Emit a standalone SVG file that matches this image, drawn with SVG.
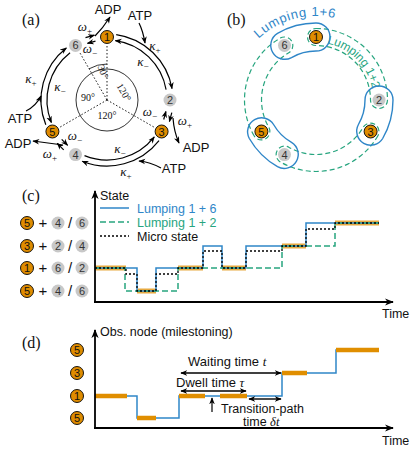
<svg xmlns="http://www.w3.org/2000/svg" width="416" height="449" viewBox="0 0 416 449">
<style>
text{font-family:"Liberation Sans",Arial,sans-serif;fill:#111}
.lab{font-family:"Liberation Serif","Times New Roman",serif;font-size:16px}
.sym{font-family:"Liberation Serif","Times New Roman",serif;font-style:italic;font-size:13px;text-anchor:middle}
.sub{font-style:normal;font-size:9px}
.ang{font-family:"Liberation Serif","Times New Roman",serif;font-size:10px;text-anchor:middle}
.chem{font-size:13px;text-anchor:middle}
.on{fill:#df8c00;stroke:#000;stroke-width:0.9}
.gn{fill:#c8c8c8}
.nt{font-size:11px;text-anchor:middle}
.ntg{font-size:11px;text-anchor:middle;fill:#333}
.ar{fill:none;stroke:#000;stroke-width:1.2;marker-end:url(#ah)}
.dot{fill:none;stroke:#000;stroke-width:0.9;stroke-dasharray:1.5 2}
.gb{fill:none;stroke:#27a57f;stroke-width:1.2;stroke-dasharray:5 3}
.bb{fill:none;stroke:#2f86c8;stroke-width:1.4}
.axis{fill:none;stroke:#000;stroke-width:1.8;marker-end:url(#axh)}
.tb{fill:none;stroke:#2f86c8;stroke-width:1.5}
.tg{fill:none;stroke:#27a57f;stroke-width:1.5;stroke-dasharray:6 3}
.tk{fill:none;stroke:#000;stroke-width:1.3;stroke-dasharray:2 2}
.hl{fill:none;stroke:#e08e00;stroke-width:5;stroke-opacity:0.75}
.hd{fill:none;stroke:#e08e00;stroke-width:4.5}
.txt{font-size:12.5px}
.dbl{fill:none;stroke:#000;stroke-width:1.4;marker-start:url(#ah);marker-end:url(#ah)}
</style>
<defs>
<marker id="ah" viewBox="0 0 10 10" refX="9" refY="5" markerWidth="7" markerHeight="7" orient="auto-start-reverse" markerUnits="userSpaceOnUse"><path d="M0,1 L10,5 L0,9 L3,5 Z" fill="#000"/></marker>
<marker id="axh" viewBox="0 0 10 10" refX="9" refY="5" markerWidth="9" markerHeight="9" orient="auto" markerUnits="userSpaceOnUse"><path d="M0,1 L10,5 L0,9 L3,5 Z" fill="#000"/></marker>
<path id="tp16" d="M251.65,46 A84 84 0 0 1 380.35,46"/>
<path id="tp12" d="M321.01,42.72 A57.5 57.5 0 0 1 373.5,100"/>
</defs>

<!-- Panel labels -->
<text class="lab" x="22" y="25">(a)</text>
<text class="lab" x="227" y="25">(b)</text>
<text class="lab" x="22" y="201">(c)</text>
<text class="lab" x="22" y="348">(d)</text>

<!-- Panel (a) angle guides -->
<g id="angles">
<line class="dot" x1="107" y1="100" x2="107" y2="44"/>
<line class="dot" x1="107" y1="100" x2="155.5" y2="128"/>
<line class="dot" x1="107" y1="100" x2="58.5" y2="128"/>
<line class="dot" x1="107" y1="100" x2="80" y2="53"/>
<circle cx="107" cy="100" r="31" fill="none" stroke="#000" stroke-width="0.8"/>
<path d="M89,68.82 A36 36 0 0 1 107,64" fill="none" stroke="#000" stroke-width="0.8"/>
<text class="ang" transform="translate(100,73) rotate(70)">30°</text>
<text class="ang" transform="translate(121,94) rotate(60)">120°</text>
<text class="ang" x="88" y="101">90°</text>
<text class="ang" x="107" y="119">120°</text>
</g>

<!-- Panel (a) connectors -->
<g id="connectors-a">
<path class="ar" d="M116.19,34.64 A66 66 0 0 1 172,88.54"/>
<path class="ar" d="M166.09,89.58 A60 60 0 0 0 115.35,40.58"/>
<path class="ar" d="M159.01,140.64 A66 66 0 0 1 82.28,161.2"/>
<path class="ar" d="M84.52,155.63 A60 60 0 0 0 154.28,136.94"/>
<path class="ar" d="M45.8,124.72 A66 66 0 0 1 66.36,47.99"/>
<path class="ar" d="M70.06,52.72 A60 60 0 0 0 51.37,122.48"/>
<!-- omega short arrows -->
<path class="ar" d="M85.5,37.6 L94.4,35.2"/>
<path class="ar" d="M95.5,41.1 L87.5,43.3"/>
<path class="ar" d="M171.8,112.6 L169.4,121.5"/>
<path class="ar" d="M163.7,119.5 L165.9,111.5"/>
<path class="ar" d="M63.7,149.8 L57.2,143.3"/>
<path class="ar" d="M61.7,139.4 L67.6,145.3"/>
<!-- ADP arrows -->
<path class="ar" d="M95,36 Q103,28 110,17"/>
<path class="ar" d="M173,118 Q174,132 179,143"/>
<path class="ar" d="M63,145 Q48,143 33,141"/>
<!-- ATP arrows -->
<path class="ar" d="M139,23 Q143,31 145,43"/>
<path class="ar" d="M26,111 Q36,106 41,96"/>
<path class="ar" d="M161,168 Q150,162 139,161"/>
</g>

<!-- Panel (a) labels -->
<g id="rates-a">
<text class="chem" x="108" y="14">ADP</text>
<text class="chem" x="140" y="20">ATP</text>
<text class="chem" x="20" y="123">ATP</text>
<text class="chem" x="18" y="148">ADP</text>
<text class="chem" x="196" y="152">ADP</text>
<text class="chem" x="174" y="173">ATP</text>
<text class="sym" x="155" y="50">κ<tspan class="sub" dy="3">+</tspan></text>
<text class="sym" x="143" y="66">κ<tspan class="sub" dy="3">−</tspan></text>
<text class="sym" x="31" y="83">κ<tspan class="sub" dy="3">+</tspan></text>
<text class="sym" x="60" y="91">κ<tspan class="sub" dy="3">−</tspan></text>
<text class="sym" x="120" y="153">κ<tspan class="sub" dy="3">−</tspan></text>
<text class="sym" x="126" y="176">κ<tspan class="sub" dy="3">+</tspan></text>
<text class="sym" x="85" y="31">ω<tspan class="sub" dy="3">+</tspan></text>
<text class="sym" x="90" y="53">ω<tspan class="sub" dy="3">−</tspan></text>
<text class="sym" x="150" y="116">ω<tspan class="sub" dy="3">−</tspan></text>
<text class="sym" x="185" y="125">ω<tspan class="sub" dy="3">+</tspan></text>
<text class="sym" x="75" y="140">ω<tspan class="sub" dy="3">−</tspan></text>
<text class="sym" x="50" y="158">ω<tspan class="sub" dy="3">+</tspan></text>
</g>

<!-- Panel (a) nodes -->
<g id="a1"><circle class="on" cx="107" cy="37" r="6.5"/><text class="nt" x="107" y="41">1</text></g>
<g id="a2"><circle class="gn" cx="170" cy="100" r="6.5"/><text class="ntg" x="170" y="104">2</text></g>
<g id="a3"><circle class="on" cx="161.6" cy="131.5" r="6.5"/><text class="nt" x="161.6" y="135.5">3</text></g>
<g id="a4"><circle class="gn" cx="75.5" cy="154.6" r="6.5"/><text class="ntg" x="75.5" y="158.6">4</text></g>
<g id="a5"><circle class="on" cx="52.4" cy="131.5" r="6.5"/><text class="nt" x="52.4" y="135.5">5</text></g>
<g id="a6"><circle class="gn" cx="75.5" cy="45.4" r="6.5"/><text class="ntg" x="75.5" y="49.4">6</text></g>

<!-- Panel (b) lumping outlines -->
<g id="lump12">
<path class="gb" d="M316,28.5 A71.5 71.5 0 0 1 387.5,100 A8.5 8.5 0 0 1 370.5,100 A54.5 54.5 0 0 0 316,45.5 A8.5 8.5 0 0 1 316,28.5 Z"/>
<path class="gb" d="M377.92,135.75 A71.5 71.5 0 0 1 280.25,161.92 A8.5 8.5 0 0 1 288.75,147.2 A54.5 54.5 0 0 0 363.2,127.25 A8.5 8.5 0 0 1 377.92,135.75 Z"/>
<path class="gb" d="M254.08,135.75 A71.5 71.5 0 0 1 280.25,38.08 A8.5 8.5 0 0 1 288.75,52.8 A54.5 54.5 0 0 0 268.8,127.25 A8.5 8.5 0 0 1 254.08,135.75 Z"/>
<text font-size="12" style="fill:#27a57f"><textPath href="#tp12" startOffset="6" textLength="68" lengthAdjust="spacing">Lumping 1+2</textPath></text>
</g>
<g id="lump16">
<path class="bb" d="M277.5,33.32 A77 77 0 0 1 316,23 A14 14 0 0 1 316,51 A49 49 0 0 0 291.5,57.56 A14 14 0 0 1 277.5,33.32 Z"/>
<path class="bb" d="M393,100 A77 77 0 0 1 382.68,138.5 A14 14 0 0 1 358.44,124.5 A49 49 0 0 0 365,100 A14 14 0 0 1 393,100 Z"/>
<path class="bb" d="M277.5,166.68 A77 77 0 0 1 249.32,138.5 A14 14 0 0 1 273.56,124.5 A49 49 0 0 0 291.5,142.44 A14 14 0 0 1 277.5,166.68 Z"/>
<text font-size="13" style="fill:#2f86c8"><textPath href="#tp16" startOffset="10" textLength="82" lengthAdjust="spacing">Lumping 1+6</textPath></text>
</g>

<!-- Panel (b) nodes -->
<g id="b1"><circle class="on" cx="316" cy="37" r="6.5"/><text class="nt" x="316" y="41">1</text></g>
<g id="b2"><circle class="gn" cx="379" cy="100" r="6.5"/><text class="ntg" x="379" y="104">2</text></g>
<g id="b3"><circle class="on" cx="370.6" cy="131.5" r="6.5"/><text class="nt" x="370.6" y="135.5">3</text></g>
<g id="b4"><circle class="gn" cx="284.5" cy="154.6" r="6.5"/><text class="ntg" x="284.5" y="158.6">4</text></g>
<g id="b5"><circle class="on" cx="261.4" cy="131.5" r="6.5"/><text class="nt" x="261.4" y="135.5">5</text></g>
<g id="b6"><circle class="gn" cx="284.5" cy="45.4" r="6.5"/><text class="ntg" x="284.5" y="49.4">6</text></g>

<!-- Panel (c) -->
<g id="c-rows">
<circle class="on" cx="27" cy="223" r="6.5"/><text class="nt" x="27" y="227">5</text>
<text x="43" y="228" font-size="15" text-anchor="middle">+</text>
<circle class="gn" cx="58" cy="223" r="6.5"/><text class="ntg" x="58" y="227">4</text>
<text x="70" y="228" font-size="15" text-anchor="middle">/</text>
<circle class="gn" cx="82" cy="223" r="6.5"/><text class="ntg" x="82" y="227">6</text>

<circle class="on" cx="27" cy="246" r="6.5"/><text class="nt" x="27" y="250">3</text>
<text x="43" y="251" font-size="15" text-anchor="middle">+</text>
<circle class="gn" cx="58" cy="246" r="6.5"/><text class="ntg" x="58" y="250">2</text>
<text x="70" y="251" font-size="15" text-anchor="middle">/</text>
<circle class="gn" cx="82" cy="246" r="6.5"/><text class="ntg" x="82" y="250">4</text>

<circle class="on" cx="27" cy="268" r="6.5"/><text class="nt" x="27" y="272">1</text>
<text x="43" y="273" font-size="15" text-anchor="middle">+</text>
<circle class="gn" cx="58" cy="268" r="6.5"/><text class="ntg" x="58" y="272">6</text>
<text x="70" y="273" font-size="15" text-anchor="middle">/</text>
<circle class="gn" cx="82" cy="268" r="6.5"/><text class="ntg" x="82" y="272">2</text>

<circle class="on" cx="27" cy="291" r="6.5"/><text class="nt" x="27" y="295">5</text>
<text x="43" y="296" font-size="15" text-anchor="middle">+</text>
<circle class="gn" cx="58" cy="291" r="6.5"/><text class="ntg" x="58" y="295">4</text>
<text x="70" y="296" font-size="15" text-anchor="middle">/</text>
<circle class="gn" cx="82" cy="291" r="6.5"/><text class="ntg" x="82" y="295">6</text>
</g>
<g id="c-plot">
<path class="hl" d="M95,268 H126 M137,291 H156 M178,268 H203 M222,268 H246 M282,246 H306 M335,223 H379"/>
<path class="tb" d="M95,268 H137 V291 H156 V268 H203 V246 H222 V268 H246 V246 H306 V223 H379"/>
<path class="tg" d="M95,268 H125 V291 H178 V268 H282 V246 H335 V223 H379"/>
<path class="tk" d="M95,268 H126 V274 H137 V291 H156 V274 H178 V268 H203 V251 H222 V268 H246 V251 H282 V246 H306 V229 H335 V223 H379"/>
<path class="axis" d="M95,303 V191"/>
<path class="axis" d="M94,302 H393"/>
<text class="txt" x="100" y="200">State</text>
<text class="txt" x="382" y="318">Time</text>
<line x1="100" y1="208" x2="129" y2="208" class="tb"/>
<line x1="100" y1="222" x2="129" y2="222" class="tg"/>
<line x1="100" y1="236" x2="129" y2="236" class="tk"/>
<text class="txt" x="137" y="212.5" style="fill:#2f86c8">Lumping 1 + 6</text>
<text class="txt" x="137" y="226.5" style="fill:#27a57f">Lumping 1 + 2</text>
<text class="txt" x="137" y="240.5">Micro state</text>
</g>

<!-- Panel (d) -->
<g id="d-rows">
<circle class="on" cx="77" cy="350" r="6.5"/><text class="nt" x="77" y="354">5</text>
<circle class="on" cx="77" cy="373" r="6.5"/><text class="nt" x="77" y="377">3</text>
<circle class="on" cx="77" cy="396" r="6.5"/><text class="nt" x="77" y="400">1</text>
<circle class="on" cx="77" cy="418" r="6.5"/><text class="nt" x="77" y="422">5</text>
</g>
<g id="d-plot">
<path class="tb" d="M95,396 H137 V418 H179 V396 H282 V373 H336 V350 H379"/>
<path class="hd" d="M95,396 H127 M137,418 H156 M179,396 H205 M220,396 H247 M282,373 H307 M336,350 H379"/>
<path class="axis" d="M95,429 V330"/>
<path class="axis" d="M94,428 H393"/>
<text class="txt" x="100" y="336">Obs. node (milestoning)</text>
<text class="txt" x="382" y="445">Time</text>
<text font-size="13" x="188" y="366">Waiting time <tspan font-family="Liberation Serif,serif" font-style="italic">t</tspan></text>
<path class="dbl" d="M181,373 H281"/>
<text font-size="13" x="176" y="387">Dwell time <tspan font-family="Liberation Serif,serif" font-style="italic">τ</tspan></text>
<path class="dbl" d="M181,391 H246"/>
<path class="dbl" d="M249,399 H281"/>
<path class="ar" d="M212,412 V398"/>
<text class="txt" x="221" y="413">Transition-path</text>
<text class="txt" x="243" y="426">time <tspan font-family="Liberation Serif,serif" font-style="italic">δt</tspan></text>
</g>
</svg>
